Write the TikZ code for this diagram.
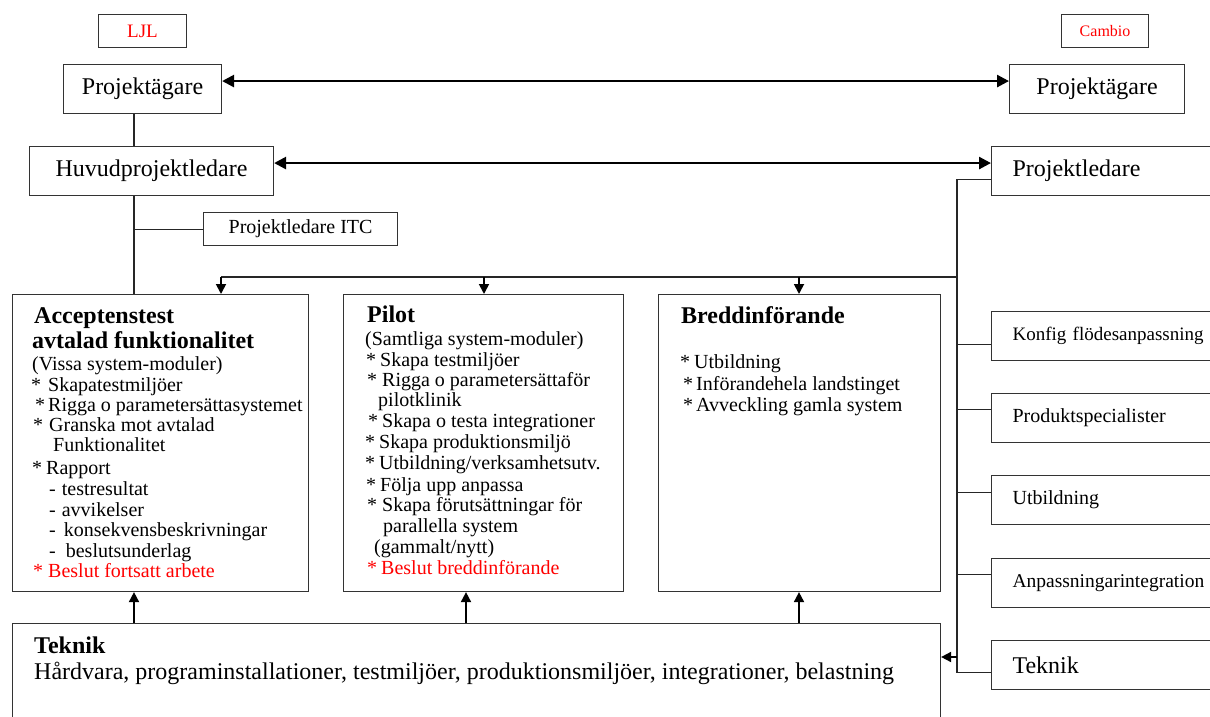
\documentclass[tikz,border=0pt]{standalone}
\usepackage{fontspec}
\setmainfont{Liberation Serif}
\usetikzlibrary{arrows.meta,calc}
\begin{document}
\begin{tikzpicture}[x=1pt,y=-1pt,
  box/.style={draw=black!80, line width=1.1pt, inner sep=0pt, anchor=north west},
  rbox/.style={box, minimum width=260pt, minimum height=49pt, text width=218pt, inner xsep=21pt, align=left, font=\fontsize{20}{24}\selectfont},
  ln/.style={draw=black!85, line width=1.1pt},
  arr/.style={draw=black, line width=1.8pt, -{Triangle[length=10pt,width=10pt]}},
  dbl/.style={draw=black, line width=2.6pt, {Triangle[length=12pt,width=12pt]}-{Triangle[length=12pt,width=12pt]}},
  row/.style={anchor=west, inner sep=0pt, text height=14pt, text depth=4.5pt, font=\fontsize{20}{24}\selectfont},
  head/.style={anchor=west, inner sep=0pt, text height=17pt, text depth=5pt, font=\fontsize{24}{28}\selectfont\bfseries},
  big/.style={anchor=west, inner sep=0pt, text height=17pt, text depth=5pt, font=\fontsize{24}{28}\selectfont}]
\fill[white] (0,0) rectangle (1210,717);
\useasboundingbox (0,0) rectangle (1210,717);
\clip (0,0) rectangle (1210,717);

% top boxes
\node[box, minimum width=88pt, minimum height=33pt, text=red, font=\fontsize{19}{22}\selectfont] (ljl) at (98,14) {LJL};
\node[box, minimum width=87pt, minimum height=33pt, text=red, font=\fontsize{16}{19}\selectfont] (cambio) at (1061,14) {Cambio};
\node[box, minimum width=158pt, minimum height=49pt, font=\fontsize{24}{28}\selectfont] (ptl) at (63,64) {Projektägare};
\node[box, minimum width=175pt, minimum height=49pt, font=\fontsize{24}{28}\selectfont] (ptr) at (1009,64) {Projektägare};
\node[box, minimum width=244pt, minimum height=49pt, font=\fontsize{24}{28}\selectfont] (hpl) at (29,146) {Huvudprojektledare};
\node[rbox, font=\fontsize{24}{28}\selectfont] (plr) at (991,146) {Projektledare};
\node[box, minimum width=194pt, minimum height=33pt, font=\fontsize{20}{24}\selectfont] (itc) at (203,212) {Projektledare ITC};

% main boxes
\node[box, minimum width=296pt, minimum height=297pt] (acc) at (12,294) {};
\node[box, minimum width=280pt, minimum height=297pt] (pil) at (343,294) {};
\node[box, minimum width=282pt, minimum height=297pt] (bred) at (658,294) {};
\node[box, minimum width=928pt, minimum height=110pt] (tek) at (12,623) {};

% right column boxes
\node[rbox, font=\fontsize{19}{23}\selectfont] (konf) at (991,311) {Konfig flödesanpassning};
\node[rbox] (prod) at (991,393) {Produktspecialister};
\node[rbox] (utb) at (991,475) {Utbildning};
\node[rbox, font=\fontsize{19.5}{23}\selectfont] (anp) at (991,558) {Anpassningarintegration};
\node[rbox, font=\fontsize{24}{28}\selectfont] (tekr) at (991,640) {Teknik};

% Acceptenstest text
\node[head] (accH1) at (34,317) {Acceptenstest};
\node[head] (accH2) at (32,342) {avtalad funktionalitet};
\foreach \x/\y/\t [count=\i] in {
  32/366/{(Vissa system-moduler)},
  31/387/{*\hspace{7pt}Skapatestmiljöer},
  35/407/{*\hspace{3pt}Rigga o parametersättasystemet},
  33/427/{*\hspace{6pt}Granska mot avtalad},
  53/447/{Funktionalitet},
  32/470/{*\hspace{4pt}Rapport},
  49/491/{-\hspace{6pt}testresultat},
  49/512/{-\hspace{6pt}avvikelser},
  49/532/{-\hspace{8pt}konsekvensbeskrivningar},
  49/553/{-\hspace{10pt}beslutsunderlag}}
  \node[row] (acc\i) at (\x,\y) {\t};
\node[row, text=red] (accR) at (33,573) {*\hspace{5pt}Beslut fortsatt arbete};

% Pilot text
\node[head] (pilH) at (367,316) {Pilot};
\foreach \x/\y/\t [count=\i] in {
  365/341/{(Samtliga system-moduler)},
  366/362/{*\hspace{4pt}Skapa testmiljöer},
  367/382/{*\hspace{5pt}Rigga o parametersättaför},
  378/402/{pilotklinik},
  368/423/{*\hspace{4pt}Skapa o testa integrationer},
  365/444/{*\hspace{4pt}Skapa produktionsmiljö},
  365/465/{*\hspace{4pt}Utbildning/verksamhetsutv.},
  366/487/{*\hspace{4pt}Följa upp anpassa},
  367/507/{*\hspace{5pt}Skapa förutsättningar för},
  383/528/{parallella system},
  374/549/{(gammalt/nytt)}}
  \node[row] (pil\i) at (\x,\y) {\t};
\node[row, text=red] (pilR) at (367,570) {*\hspace{4pt}Beslut breddinförande};

% Breddinforande text
\node[head] (bredH) at (681,317) {Breddinförande};
\foreach \x/\y/\t [count=\i] in {
  680/364/{*\hspace{4pt}Utbildning},
  683/386/{*\hspace{3pt}Införandehela landstinget},
  683/407/{*\hspace{3pt}Avveckling gamla system}}
  \node[row] (bred\i) at (\x,\y) {\t};

% Teknik text
\node[head] (tekH) at (34,647) {Teknik};
\node[big] (tekT) at (34,673) {Hårdvara, programinstallationer, testmiljöer, produktionsmiljöer, integrationer, belastning};

% connectors
\draw[dbl] ([yshift=8pt]ptl.east) -- ([yshift=8pt]ptr.west);
\draw[dbl] ([yshift=8pt]hpl.east) -- ([yshift=8pt]plr.west);

\coordinate (v) at (134,0);
\draw[ln] (ptl.south -| v) -- (hpl.north -| v);
\draw[ln] (hpl.south -| v) -- (acc.north -| v);
\draw[ln] (itc.west) -- (itc.west -| v);

\coordinate (bus) at (957,0);
\draw[ln] ([yshift=-8.5pt]plr.west) -| ([yshift=-7.5pt]tekr.west -| bus) -- ([yshift=-7.5pt]tekr.west);
\draw[ln] ([yshift=-8.5pt]konf.west -| bus) -- ([yshift=-8.5pt]konf.west);
\draw[ln] ([yshift=8.5pt]prod.west -| bus) -- ([yshift=8.5pt]prod.west);
\draw[ln] ([yshift=7.5pt]utb.west -| bus) -- ([yshift=7.5pt]utb.west);
\draw[ln] ([yshift=8.5pt]anp.west -| bus) -- ([yshift=8.5pt]anp.west);

\coordinate (tekin) at (957,657);
\draw[arr] (tekin) -- (tekin -| tek.east);

\coordinate (hb) at (957,277);
\coordinate (d1) at (221,277);
\coordinate (d2) at (484,277);
\coordinate (d3) at (799,277);
\draw[ln] (hb) -- (d1);
\draw[arr] (d1) -- (d1 |- acc.north);
\draw[arr] (d2) -- (d2 |- pil.north);
\draw[arr] (d3) -- (d3 |- bred.north);

\coordinate (u1) at (134,0);
\coordinate (u2) at (466,0);
\coordinate (u3) at (799,0);
\draw[arr] (tek.north -| u1) -- (acc.south -| u1);
\draw[arr] (tek.north -| u2) -- (pil.south -| u2);
\draw[arr] (tek.north -| u3) -- (bred.south -| u3);
\end{tikzpicture}
\end{document}
